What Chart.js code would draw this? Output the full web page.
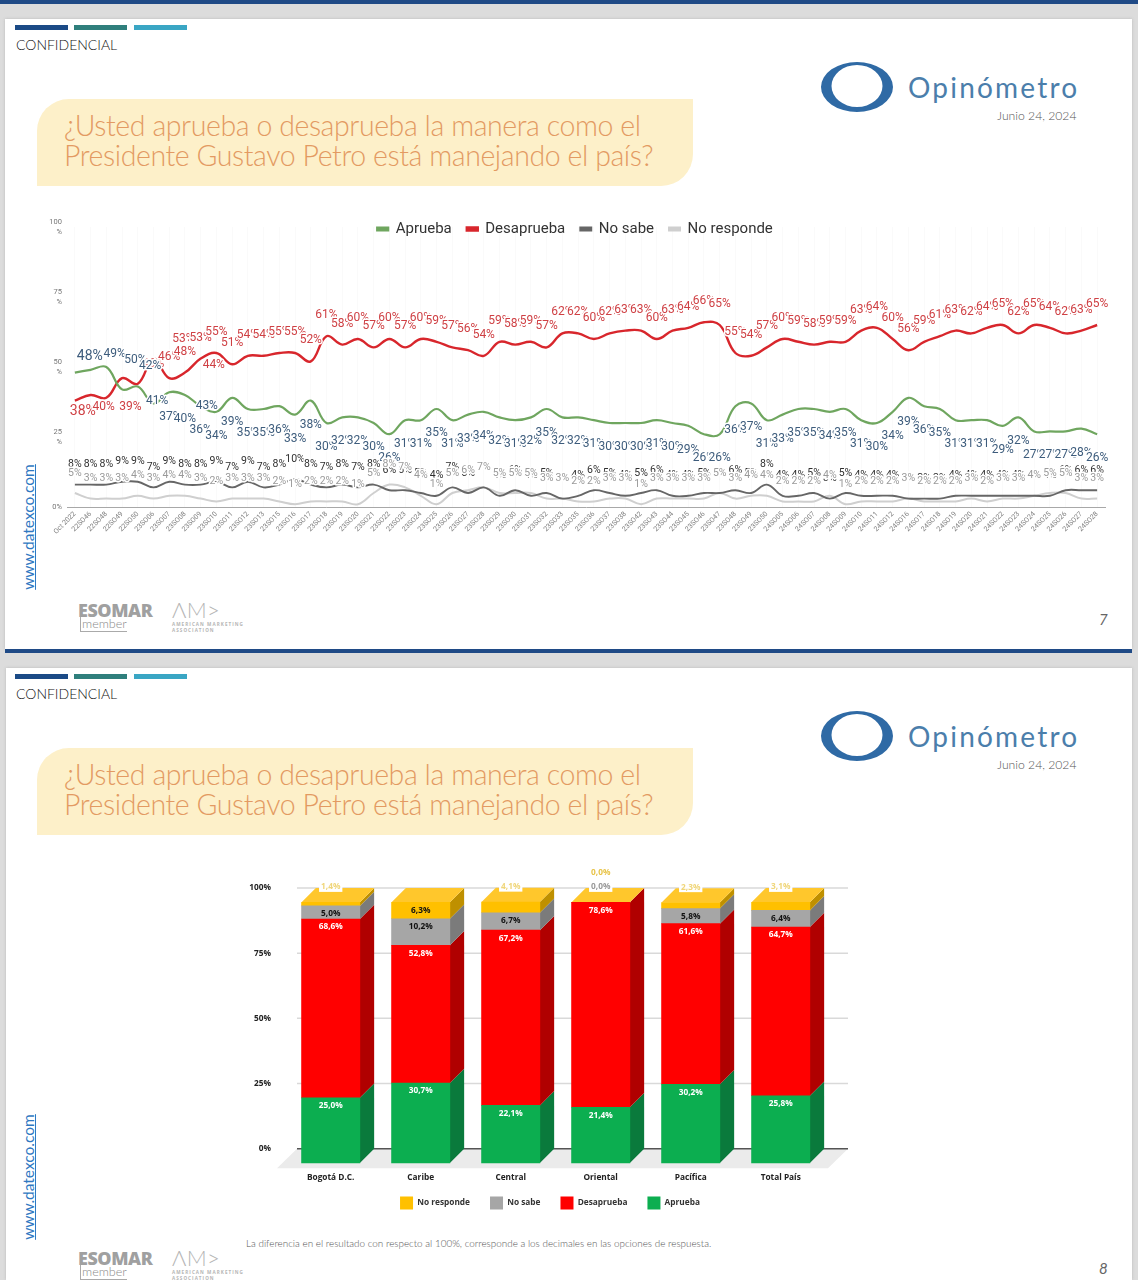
<!DOCTYPE html>
<html lang="es">
<head>
<meta charset="utf-8">
<title>Opinómetro</title>
<script src="https://cdn.jsdelivr.net/npm/chart.js@4"></script>
<style>
html,body{margin:0;padding:0;width:1138px;height:1280px;overflow:hidden;background:#dcdcdc;font-family:Lato,sans-serif}
.abs{position:absolute;white-space:nowrap}
canvas{position:absolute;display:block}
</style>
</head>
<body>
<div id="page" class="abs" style="left:0;top:0;width:1138px;height:1280px;overflow:hidden"></div>
<canvas id="trend" width="1090" height="340" style="left:30px;top:210px"></canvas>
<canvas id="regions" width="620" height="360" style="left:240px;top:860px"></canvas>
<script>
// ---------- Trend chart data ----------
const weeks = ["Oct 2022","22SO46","22SO48","22SO49","22SO50","23SO06","23SO07","23SO08","23SO09","23SO10","23SO11","23SO12","23SO13","23SO15","23SO16","23SO17","23SO18","23SO19","23SO20","23SO21","23SO22","23SO23","23SO24","23SO25","23SO26","23SO27","23SO28","23SO29","23SO30","23SO31","23SO32","23SO33","23SO35","23SO36","23SO37","23SO38","23SO42","23SO43","23SO44","23SO45","23SO46","23SO47","23SO48","23SO49","23SO50","24SO05","24SO06","24SO07","24SO08","24SO09","24SO10","24SO11","24SO12","24SO16","24SO17","24SO18","24SO19","24SO20","24SO21","24SO22","24SO23","24SO24","24SO25","24SO26","24SO27","24SO28"];
const aprueba = [48,49,50,42,43,37,41,40,36,34,39,35,35,36,33,38,30,32,32,30,26,31,31,35,31,33,34,32,31,32,35,32,32,31,30,30,30,31,30,29,26,26,36,37,31,33,35,35,34,35,31,30,34,39,36,35,31,31,31,29,32,27,27,27,28,26];
const desaprueba = [38,40,39,46,44,53,46,48,53,55,51,54,54,55,55,52,61,58,60,57,60,57,60,59,57,56,54,59,58,59,57,62,62,60,62,63,63,60,63,64,66,65,55,54,57,60,59,58,59,59,63,64,60,56,59,61,63,62,64,65,62,65,64,62,63,65];
const noSabe = [8,8,8,9,9,7,9,8,8,9,7,9,7,8,10,8,7,8,7,8,6,6,5,4,7,5,7,4,6,4,5,3,4,6,5,4,5,6,4,4,5,5,6,5,8,4,4,5,3,5,4,4,4,3,3,3,4,4,4,4,4,4,4,6,6,6];
const noResponde = [5,3,3,3,4,3,4,4,3,2,3,3,3,2,1,2,2,2,1,5,8,7,4,1,5,6,7,5,5,5,3,3,2,2,3,3,1,3,3,3,3,5,3,4,4,2,2,2,4,1,2,2,2,3,2,2,2,3,2,3,3,4,5,5,3,3];
const trendTicks = [0,25,50,75,100];
// Labels the original chart pushed aside to avoid collisions: point index -> [dx, dy] in pixels.
const nudgeDesaprueba = {0:[8,11],1:[13,12],2:[24,9],3:[31,-14],4:[76,-19],5:[30,-20]};
const nudgeAprueba = {0:[15,-16],1:[24,-16],2:[29,-7],3:[28,-23],4:[69,19],5:[17,14],6:[-12,9]};

// ---------- Regional chart data ----------
const regions = ["Bogotá D.C.","Caribe","Central","Oriental","Pacífica","Total País"];
const regAprueba = [25.0,30.7,22.1,21.4,30.2,25.8];
const regDesaprueba = [68.6,52.8,67.2,78.6,61.6,64.7];
const regNoSabe = [5.0,10.2,6.7,0.0,5.8,6.4];
const regNoResponde = [1.4,6.3,4.1,0.0,2.3,3.1];
const regTicks = [0,25,50,75,100];

// ---------- Page furniture ----------
const slides = [
  {top:0, foot:0, num:"7", urlY:527},
  {top:649, foot:648, num:"8", urlY:1176.5}
];
const page = document.getElementById('page');
let html = `<div class="abs" style="left:0;top:0;width:1138px;height:4px;background:#1f4a86"></div>
<div class="abs" style="left:5px;top:19px;width:1127px;height:630px;background:#fff;box-shadow:0 0 3px #bbb"></div>
<div class="abs" style="left:5px;top:649px;width:1127px;height:4px;background:#1f4a86"></div>
<div class="abs" style="left:6px;top:668px;width:1126px;height:612px;background:#fff;box-shadow:0 0 3px #bbb"></div>`;
slides.forEach(s=>{
  const t=s.top, f=s.foot;
  html += `
  <div class="abs" style="left:15px;top:${t+25}px;width:53px;height:5px;background:#1b4a86"></div>
  <div class="abs" style="left:74px;top:${t+25}px;width:53px;height:5px;background:#2f7f7c"></div>
  <div class="abs" style="left:134px;top:${t+25}px;width:53px;height:5px;background:#3aa6c4"></div>
  <div class="abs" style="left:16px;top:${t+36}px;font:300 14px/17px Lato,sans-serif;color:#111">CONFIDENCIAL</div>
  <div class="abs" style="left:37px;top:${t+99}px;width:656px;height:87px;background:#fdf0c9;border-radius:32px 0 32px 0"></div>
  <div class="abs" style="left:64px;top:${t+110}px;font:300 28.5px/30px Lato,sans-serif;color:#e39a62;letter-spacing:-0.42px;white-space:pre">¿Usted aprueba o desaprueba la manera como el
Presidente Gustavo Petro está manejando el país?</div>
  <svg class="abs" style="left:815px;top:${t+55}px" width="85" height="65" viewBox="815 55 85 65"><path fill-rule="evenodd" fill="#2f6aa5" d="M821 87a36 25 0 1 0 72 0a36 25 0 1 0 -72 0zM831.5 86a25.5 21 0 1 1 51 0a25.5 21 0 1 1 -51 0z"/></svg>
  <div class="abs" style="left:908px;top:${t+70}px;font:400 28px/34px Lato,sans-serif;color:#4b7eab;letter-spacing:2.2px">Opinómetro</div>
  <div class="abs" style="left:997px;top:${t+108}px;font:300 12.2px/16px Lato,sans-serif;color:#555">Junio 24, 2024</div>
  <div class="abs" style="left:28px;top:${s.urlY}px;transform:translate(-50%,-50%) rotate(-90deg);font:400 15.5px/18px Lato,sans-serif;color:#2f78c2;text-decoration:underline">www.datexco.com</div>
  <div class="abs" style="left:78px;top:${f+601}px;font:800 17.9px/18px 'Open Sans',sans-serif;color:#a0a0a0;letter-spacing:-0.4px">ESOMAR</div>
  <div class="abs" style="left:80px;top:${f+617}px;font:300 12.6px/14px Lato,sans-serif;color:#8a8a8a;border-left:1px solid #aaa;border-bottom:1px solid #aaa;padding:0 0 0 1px">member</div>
  <div class="abs" style="left:172px;top:${f+598}px;font:300 22px/24px Lato,sans-serif;color:#b5b5b5;letter-spacing:0.3px">ΛM&gt;</div>
  <div class="abs" style="left:172px;top:${f+621}px;font:700 4.6px/6px 'Open Sans',sans-serif;color:#b5b5b5;letter-spacing:1.05px">AMERICAN MARKETING<br>ASSOCIATION</div>
  <div class="abs" style="left:1099px;top:${t+610}px;font:italic 400 15px/18px Lato,sans-serif;color:#666">${s.num}</div>`;
});
html += `<div class="abs" style="left:246px;top:1236px;font:300 9.9px/14px Lato,sans-serif;color:#555">La diferencia en el resultado con respecto al 100%, corresponde a los decimales en las opciones de respuesta.</div>`;
page.innerHTML = html;

// Legend that sits over the plot: takes no layout height, then is moved into place.
function floatingLegend(legendTop, legendShift){
  return {
    id:'floatingLegend',
    beforeLayout(chart){
      const l = chart.legend;
      if(!l._floating){
        const fit = l.fit;
        l.fit = function(){ fit.call(this); this.height = 0; };
        l._floating = true;
      }
    },
    afterLayout(chart){
      const l = chart.legend;
      // the legend clips its drawing to this box
      l.top = legendTop; l.bottom = legendTop + 60; l.height = 60;
      l.left += legendShift; l.right += legendShift;
    }
  };
}

// ---------- Trend chart ----------
const labelOrder = [1,0,2,3];
const pointLabels = {
  id:'pointLabels',
  afterDatasetsDraw(chart){
    const ctx = chart.ctx;
    ctx.save();
    ctx.textAlign='center'; ctx.textBaseline='middle'; ctx.lineJoin='round';
    labelOrder.forEach(i=>{
      const ds = chart.data.datasets[i];
      const st = ds.labelStyle;
      chart.getDatasetMeta(i).data.forEach((pt,j)=>{
        const n = st.nudge[j] || [0, st.dy];
        const size = (j===0 && st.main) ? 14 : st.size;
        ctx.font = `${st.weight} ${size}px Roboto, sans-serif`;
        const txt = ds.data[j]+'%';
        const x = pt.x+n[0], y = pt.y+n[1];
        ctx.lineWidth = 3; ctx.strokeStyle='#fff';
        ctx.strokeText(txt,x,y);
        ctx.fillStyle = st.color;
        ctx.fillText(txt,x,y);
      });
    });
    ctx.restore();
  }
};
function lineDs(label,data,color,width,labelStyle){
  return {label,data,borderColor:color,backgroundColor:color,borderWidth:width,pointRadius:0,tension:0.4,labelStyle};
}
new Chart(document.getElementById('trend'),{
  type:'line',
  data:{labels:weeks,datasets:[
    lineDs('Aprueba',aprueba,'#6fa65f',2.2,{color:'#3d5c7c',size:12,weight:400,dy:24,nudge:nudgeAprueba,main:true}),
    lineDs('Desaprueba',desaprueba,'#d8262c',2.4,{color:'#cf4044',size:12,weight:400,dy:-21,nudge:nudgeDesaprueba,main:true}),
    lineDs('No sabe',noSabe,'#666666',1.9,{color:'#2f2f2f',size:10.5,weight:400,dy:-20,nudge:{}}),
    lineDs('No responde',noResponde,'#cfcfcf',2,{color:'#9a9a9a',size:10.5,weight:400,dy:-20,nudge:{}})
  ]},
  options:{
    responsive:false,animation:false,
    layout:{padding:{top:17,right:15,left:0,bottom:0}},
    plugins:{
      legend:{display:true,position:'top',labels:{boxWidth:11,boxHeight:3,padding:15,color:'#333',font:{family:'Roboto',size:15}}},
      tooltip:{enabled:false}
    },
    scales:{
      x:{
        offset:true,
        afterFit(s){s.height=43;},
        border:{color:'#a8a8a8',width:1},
        grid:{offset:false,color:'#fafafa',drawTicks:false},
        ticks:{autoSkip:false,minRotation:45,maxRotation:45,padding:3,color:'#808080',font:{family:'Roboto',size:7}}
      },
      y:{
        min:0,max:100,
        afterFit(s){s.width=37;},
        afterBuildTicks(s){s.ticks=trendTicks.map(value=>({value}));},
        border:{display:false},
        grid:{display:false,drawTicks:false},
        ticks:{padding:5,color:'#777',font:{family:'Roboto',size:7.5,lineHeight:1.25},callback:v=>v===0?'0%':[String(v),'%']}
      }
    }
  },
  plugins:[floatingLegend(-3.5,7.5),pointLabels]
});

// ---------- Regional 3D stacked chart ----------
const DEPTH = 14.3;
const sideColors = ['#0a7a3c','#b00000','#7b7b7b','#bf9000'];
const TOP_COLOR = '#ffc72c';
const fmt = v => v.toFixed(1).replace('.',',')+'%';
const bars3d = {
  id:'bars3d',
  beforeDatasetsDraw(chart){
    const {ctx,scales:{y}} = chart;
    const floorY = y.getPixelForValue(0);
    ctx.save();
    // floor
    const L = 57, R = 608; // gridline extent in canvas px
    ctx.fillStyle='#ebebeb';
    ctx.beginPath();
    ctx.moveTo(L,floorY);ctx.lineTo(R,floorY);ctx.lineTo(R-20,floorY+19.5);ctx.lineTo(L-20,floorY+19.5);ctx.closePath();ctx.fill();
    // grid lines on the back wall, from the y scale
    regTicks.forEach(v=>{
      const py = y.getPixelForValue(v);
      ctx.strokeStyle = v===0 ? '#555' : '#d9d9d9';
      ctx.lineWidth = 1.5;
      ctx.beginPath();ctx.moveTo(L,py);ctx.lineTo(R,py);ctx.stroke();
    });
    ctx.restore();
    // side faces, then push the front faces toward the viewer
    ctx.save();
    ctx.translate(-DEPTH,DEPTH);
    const metas = chart.data.datasets.map((d,i)=>chart.getDatasetMeta(i));
    metas.forEach((m,i)=>{
      ctx.fillStyle = sideColors[i];
      m.data.forEach(el=>{
        const xr = el.x+el.width/2;
        ctx.beginPath();
        ctx.moveTo(xr,el.y);ctx.lineTo(xr+DEPTH,el.y-DEPTH);ctx.lineTo(xr+DEPTH,el.base-DEPTH);ctx.lineTo(xr,el.base);ctx.closePath();ctx.fill();
      });
    });
    ctx.fillStyle = TOP_COLOR;
    metas[metas.length-1].data.forEach(el=>{
      const xl = el.x-el.width/2, xr = el.x+el.width/2;
      ctx.beginPath();
      ctx.moveTo(xl,el.y);ctx.lineTo(xl+DEPTH,el.y-DEPTH);ctx.lineTo(xr+DEPTH,el.y-DEPTH);ctx.lineTo(xr,el.y);ctx.closePath();ctx.fill();
    });
  },
  afterDatasetsDraw(chart){
    const ctx = chart.ctx;
    ctx.restore();
    ctx.save();
    ctx.textAlign='center';ctx.textBaseline='middle';
    ctx.font="700 8.3px 'Open Sans', sans-serif";
    const n = chart.data.datasets.length;
    chart.data.datasets.forEach((ds,i)=>{
      chart.getDatasetMeta(i).data.forEach((el,j)=>{
        const v = ds.data[j], x = el.x-DEPTH, top = el.y+DEPTH;
        const txt = fmt(v);
        const small = (i===n-1 && v<5) || (i===n-2 && v===0);
        if(small){
          const y = (i===n-1 && v===0) ? top-30 : top-15.4;
          const w = ctx.measureText(txt).width+4;
          if(!(i===n-1 && v===0)){ctx.fillStyle='#fff';ctx.fillRect(x-w/2,y-5,w,10);}
          ctx.fillStyle = i===n-2 ? '#9a9a9a' : (v===0 ? '#e8c44a' : '#f0d67a');
          ctx.fillText(txt,x,y);
        } else {
          ctx.fillStyle = i<2 ? '#fff' : '#111';
          ctx.fillText(txt,x,top+8);
        }
      });
    });
    ctx.restore();
  }
};
function barDs(label,data,color){
  return {label,data,backgroundColor:color,borderWidth:0,barThickness:58.3,stack:'s',clip:false};
}
new Chart(document.getElementById('regions'),{
  type:'bar',
  data:{labels:regions,datasets:[
    barDs('Aprueba',regAprueba,'#0cae50'),
    barDs('Desaprueba',regDesaprueba,'#ff0000'),
    barDs('No sabe',regNoSabe,'#a6a6a6'),
    barDs('No responde',regNoResponde,'#ffc000')
  ]},
  options:{
    responsive:false,animation:false,
    layout:{padding:{top:28,right:20,left:0,bottom:35.3}},
    plugins:{
      legend:{display:true,position:'bottom',reverse:true,labels:{boxWidth:13,boxHeight:13,padding:20,color:'#333',font:{family:'Open Sans',size:8.3,weight:'700'}}},
      tooltip:{enabled:false}
    },
    scales:{
      x:{
        stacked:true,
        afterFit(s){s.height=36;},
        border:{display:false},
        grid:{display:false,drawTicks:false},
        ticks:{padding:24,labelOffset:-DEPTH,color:'#222',maxRotation:0,font:{family:'Open Sans',size:8.3,weight:'700'}}
      },
      y:{
        stacked:true,min:0,max:100,
        // the wide tick padding must not eat into the plot height
        afterFit(s){s.width=60;s.paddingTop=0;s.paddingBottom=0;},
        afterBuildTicks(s){s.ticks=regTicks.map(value=>({value}));},
        border:{display:false},
        grid:{display:false,drawTicks:false},
        ticks:{padding:29,color:'#222',font:{family:'Open Sans',size:8.3,weight:'700'},callback:v=>v+'%'}
      }
    }
  },
  plugins:[floatingLegend(316.5,10),bars3d]
});
</script>
</body>
</html>
